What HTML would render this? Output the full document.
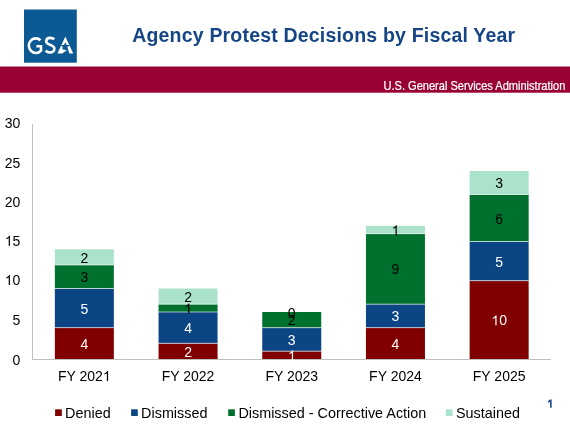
<!DOCTYPE html>
<html><head><meta charset="utf-8">
<style>
html,body{margin:0;padding:0;background:#fff;width:570px;height:428px;overflow:hidden}
svg{display:block;will-change:transform;font-family:"Liberation Sans",sans-serif}
.dl{font-size:14px;text-anchor:middle}
.xl{font-size:14px;text-anchor:middle;fill:#000}
.yl{font-size:14px;text-anchor:end;fill:#000}
.lg{font-size:14.4px;fill:#000}
</style></head><body>
<svg width="570" height="428" viewBox="0 0 570 428">
<rect x="24" y="9.5" width="52.8" height="53.2" fill="#0c5a94"/>
<g fill="none" stroke="#fff" stroke-width="2.6">
<path d="M40.5 40.2 A7.0 7.3 0 1 0 41.0 50.6 L41.0 46.2 L36.4 46.2"/>
<path d="M54.2 39.4 C53.2 38.3 51.7 37.9 50.2 37.9 C47.8 37.9 46.2 39.2 46.2 41.2 C46.2 45.5 54.4 44.3 54.4 48.6 C54.4 51 52.5 52.5 50 52.5 C48.3 52.5 46.8 51.9 45.6 50.8"/>
</g>
<g fill="#fff">
<path d="M65.33 36.6 L69.21 44.9 L66.67 44.9 L65.33 42.2 L64.0 44.9 L61.45 44.9 Z"/>
<path d="M69.55 45.6 L73.2 53.4 L69.4 53.4 L67.3 47.1 Z"/>
<path d="M61.15 45.5 L62.7 47.1 L62.2 49.3 L66.9 50.3 L62.2 53.4 L57.46 53.4 Z"/>
</g>
<text x="132.2" y="41.8" font-size="19.5" font-weight="bold" fill="#154584" letter-spacing="0.19">Agency Protest Decisions by Fiscal Year</text>
<rect x="0" y="66.5" width="570" height="26.2" fill="#990033"/>
<text transform="translate(565.3 89.7) scale(1 1.08)" font-size="11.05" fill="#fff" stroke="#fff" stroke-width="0.22" text-anchor="end">U.S. General Services Administration</text>
<line x1="32.5" y1="124.0" x2="32.5" y2="359.0" stroke="#bfbfbf" stroke-width="1"/>
<line x1="32" y1="359.5" x2="551.0" y2="359.5" stroke="#bfbfbf" stroke-width="1"/>
<text x="20.3" y="364.60" class="yl">0</text>
<text x="20.3" y="324.75" class="yl">5</text>
<text id="t27" x="20.3" y="285.00" class="yl"> 0</text><path transform="translate(4.72 285.00) scale(0.006836 -0.006836)" d="M763 0L583 0L583 1147Q518 1085 412 1023Q307 961 223 930L223 1104Q374 1175 487 1276Q600 1377 647 1472L763 1472Z" fill="#000"/>
<text id="t28" x="20.3" y="245.70" class="yl"> 5</text><path transform="translate(4.72 245.70) scale(0.006836 -0.006836)" d="M763 0L583 0L583 1147Q518 1085 412 1023Q307 961 223 930L223 1104Q374 1175 487 1276Q600 1377 647 1472L763 1472Z" fill="#000"/>
<text x="20.3" y="206.70" class="yl">20</text>
<text x="20.3" y="167.60" class="yl">25</text>
<text x="20.3" y="127.95" class="yl">30</text>
<rect x="54.85" y="327.67" width="59.0" height="31.33" fill="#800000"/>
<rect x="54.85" y="288.50" width="59.0" height="39.17" fill="#0c4583"/>
<line x1="54.85" y1="327.67" x2="113.85" y2="327.67" stroke="#fff" stroke-opacity="0.85" stroke-width="0.75"/>
<rect x="54.85" y="265.00" width="59.0" height="23.50" fill="#00702f"/>
<line x1="54.85" y1="288.50" x2="113.85" y2="288.50" stroke="#fff" stroke-opacity="0.85" stroke-width="0.75"/>
<rect x="54.85" y="249.33" width="59.0" height="15.67" fill="#abe2cc"/>
<line x1="54.85" y1="265.00" x2="113.85" y2="265.00" stroke="#fff" stroke-opacity="0.85" stroke-width="0.75"/>
<text x="84.35" y="348.83" fill="#ffffff" class="dl">4</text>
<text x="84.35" y="313.58" fill="#ffffff" class="dl">5</text>
<text x="84.35" y="282.25" fill="#000000" class="dl">3</text>
<text x="84.35" y="262.67" fill="#000000" class="dl">2</text>
<text id="t4" x="84.35" y="381" class="xl">FY 202 </text><path transform="translate(102.89 381) scale(0.006836 -0.006836)" d="M763 0L583 0L583 1147Q518 1085 412 1023Q307 961 223 930L223 1104Q374 1175 487 1276Q600 1377 647 1472L763 1472Z" fill="#000"/>
<rect x="158.55" y="343.33" width="59.0" height="15.67" fill="#800000"/>
<rect x="158.55" y="312.00" width="59.0" height="31.33" fill="#0c4583"/>
<line x1="158.55" y1="343.33" x2="217.55" y2="343.33" stroke="#fff" stroke-opacity="0.85" stroke-width="0.75"/>
<rect x="158.55" y="304.17" width="59.0" height="7.83" fill="#00702f"/>
<line x1="158.55" y1="312.00" x2="217.55" y2="312.00" stroke="#fff" stroke-opacity="0.85" stroke-width="0.75"/>
<rect x="158.55" y="288.50" width="59.0" height="15.67" fill="#abe2cc"/>
<line x1="158.55" y1="304.17" x2="217.55" y2="304.17" stroke="#fff" stroke-opacity="0.85" stroke-width="0.75"/>
<text x="188.05" y="356.67" fill="#ffffff" class="dl">2</text>
<text x="188.05" y="333.17" fill="#ffffff" class="dl">4</text>
<text id="t7" x="188.05" y="313.58" fill="#000000" class="dl"> </text><path transform="translate(184.15 313.58) scale(0.006836 -0.006836)" d="M763 0L583 0L583 1147Q518 1085 412 1023Q307 961 223 930L223 1104Q374 1175 487 1276Q600 1377 647 1472L763 1472Z" fill="#000000"/>
<text x="188.05" y="301.83" fill="#000000" class="dl">2</text>
<text x="188.05" y="381" class="xl">FY 2022</text>
<rect x="262.25" y="351.17" width="59.0" height="7.83" fill="#800000"/>
<rect x="262.25" y="327.67" width="59.0" height="23.50" fill="#0c4583"/>
<line x1="262.25" y1="351.17" x2="321.25" y2="351.17" stroke="#fff" stroke-opacity="0.85" stroke-width="0.75"/>
<rect x="262.25" y="312.00" width="59.0" height="15.67" fill="#00702f"/>
<line x1="262.25" y1="327.67" x2="321.25" y2="327.67" stroke="#fff" stroke-opacity="0.85" stroke-width="0.75"/>
<text id="t10" x="291.75" y="360.58" fill="#ffffff" class="dl"> </text><path transform="translate(287.85 360.58) scale(0.006836 -0.006836)" d="M763 0L583 0L583 1147Q518 1085 412 1023Q307 961 223 930L223 1104Q374 1175 487 1276Q600 1377 647 1472L763 1472Z" fill="#ffffff"/>
<text x="291.75" y="344.92" fill="#ffffff" class="dl">3</text>
<text x="291.75" y="325.33" fill="#000000" class="dl">2</text>
<text x="291.75" y="317.50" fill="#000000" class="dl">0</text>
<text x="291.75" y="381" class="xl">FY 2023</text>
<rect x="365.95" y="327.67" width="59.0" height="31.33" fill="#800000"/>
<rect x="365.95" y="304.17" width="59.0" height="23.50" fill="#0c4583"/>
<line x1="365.95" y1="327.67" x2="424.95" y2="327.67" stroke="#fff" stroke-opacity="0.85" stroke-width="0.75"/>
<rect x="365.95" y="233.67" width="59.0" height="70.50" fill="#00702f"/>
<line x1="365.95" y1="304.17" x2="424.95" y2="304.17" stroke="#fff" stroke-opacity="0.85" stroke-width="0.75"/>
<rect x="365.95" y="225.83" width="59.0" height="7.83" fill="#abe2cc"/>
<line x1="365.95" y1="233.67" x2="424.95" y2="233.67" stroke="#fff" stroke-opacity="0.85" stroke-width="0.75"/>
<text x="395.45" y="348.83" fill="#ffffff" class="dl">4</text>
<text x="395.45" y="321.42" fill="#ffffff" class="dl">3</text>
<text x="395.45" y="274.42" fill="#000000" class="dl">9</text>
<text id="t18" x="395.45" y="235.25" fill="#000000" class="dl"> </text><path transform="translate(391.55 235.25) scale(0.006836 -0.006836)" d="M763 0L583 0L583 1147Q518 1085 412 1023Q307 961 223 930L223 1104Q374 1175 487 1276Q600 1377 647 1472L763 1472Z" fill="#000000"/>
<text x="395.45" y="381" class="xl">FY 2024</text>
<rect x="469.65" y="280.67" width="59.0" height="78.33" fill="#800000"/>
<rect x="469.65" y="241.50" width="59.0" height="39.17" fill="#0c4583"/>
<line x1="469.65" y1="280.67" x2="528.65" y2="280.67" stroke="#fff" stroke-opacity="0.85" stroke-width="0.75"/>
<rect x="469.65" y="194.50" width="59.0" height="47.00" fill="#00702f"/>
<line x1="469.65" y1="241.50" x2="528.65" y2="241.50" stroke="#fff" stroke-opacity="0.85" stroke-width="0.75"/>
<rect x="469.65" y="171.00" width="59.0" height="23.50" fill="#abe2cc"/>
<line x1="469.65" y1="194.50" x2="528.65" y2="194.50" stroke="#fff" stroke-opacity="0.85" stroke-width="0.75"/>
<text id="t20" x="499.15" y="325.33" fill="#ffffff" class="dl"> 0</text><path transform="translate(491.36 325.33) scale(0.006836 -0.006836)" d="M763 0L583 0L583 1147Q518 1085 412 1023Q307 961 223 930L223 1104Q374 1175 487 1276Q600 1377 647 1472L763 1472Z" fill="#ffffff"/>
<text x="499.15" y="266.58" fill="#ffffff" class="dl">5</text>
<text x="499.15" y="223.50" fill="#000000" class="dl">6</text>
<text x="499.15" y="188.25" fill="#000000" class="dl">3</text>
<text x="499.15" y="381" class="xl">FY 2025</text>
<rect x="55.1" y="409.3" width="6.7" height="6.7" fill="#800000"/>
<text x="65.1" y="418.3" class="lg">Denied</text>
<rect x="131.1" y="409.3" width="6.7" height="6.7" fill="#0c4583"/>
<text x="141.1" y="418.3" class="lg">Dismissed</text>
<rect x="228.2" y="409.3" width="6.7" height="6.7" fill="#00702f"/>
<text x="238.4" y="418.3" class="lg">Dismissed - Corrective Action</text>
<rect x="445.8" y="409.3" width="6.7" height="6.7" fill="#abe2cc"/>
<text x="455.9" y="418.3" class="lg">Sustained</text>
<path d="M550.85 399.6 L550.85 407.8 M550.85 399.8 L548.2 402.2" stroke="#1a4c8c" stroke-width="1.6" fill="none"/>
</svg>
</body></html>
